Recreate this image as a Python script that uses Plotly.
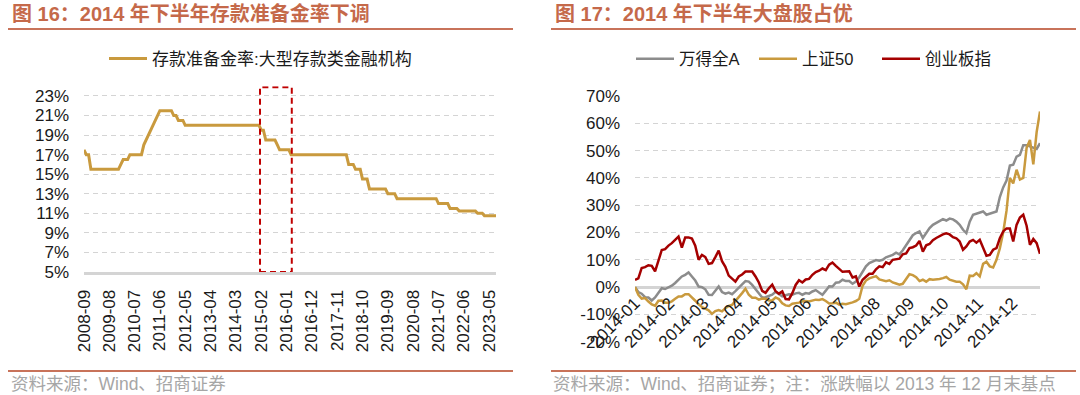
import pandas as pd
import plotly.graph_objects as go

W, H = 1080, 395

# ---------------- Left chart data: RRR (large depository institutions) ----------------
rrr_change_month = ["2008-09", "2008-10", "2008-12", "2010-01", "2010-02", "2010-05",
                    "2010-11", "2010-12", "2011-01", "2011-02", "2011-03", "2011-04",
                    "2011-05", "2011-06", "2011-12", "2012-02", "2012-05", "2015-02",
                    "2015-04", "2015-09", "2015-10", "2016-03", "2018-04", "2018-07",
                    "2018-10", "2019-01", "2019-09", "2020-01", "2021-07", "2021-12",
                    "2022-04", "2022-12", "2023-03"]
rrr_value = [17.5, 17.0, 15.5, 16.0, 16.5, 17.0,
             18.0, 18.5, 19.0, 19.5, 20.0, 20.5,
             21.0, 21.5, 21.0, 20.5, 20.0, 19.5,
             18.5, 18.0, 17.5, 17.0, 16.0, 15.5,
             14.5, 13.5, 13.0, 12.5, 12.0, 11.5,
             11.25, 11.0, 10.75]
rrr_first_month = "2008-09"
rrr_last_month = "2023-08"
rrr_tick_labels = ["2008-09", "2009-08", "2010-07", "2011-06", "2012-05", "2013-04",
                   "2014-03", "2015-02", "2016-01", "2016-12", "2017-11", "2018-10",
                   "2019-09", "2020-08", "2021-07", "2022-06", "2023-05"]
rrr_y_ticks = [5, 7, 9, 11, 13, 15, 17, 19, 21, 23]
highlight_start, highlight_end, highlight_top = "2015-01-15", "2016-03-10", 23.9

# ---------------- Right chart data: cumulative return since end-2013 (%) ----------------
wind_a = [0, -1.8, -2.4, -3.7, -3.8, -4.9, -3.8, -2.2, -0.4, -0.7, -0.2, 0.5, 1.5, 2.6, 3.9,
          4.5, 5.4, 3.9, 2.4, 0.2, 0.0, -0.8, -2.8, -2.9, -1.4, 0.2, -1.8, -2.4, -2.0, -2.6,
          -1.5, -0.4, 1.0, 2.2, 2.0, 0.8, -0.6, -2.4, -3.8, -3.7, -3.1,
          -2.8, -1.7, -2.6, -3.4, -3.0, -2.6, -2.8, -2.3, -2.1, -2.8, -2.2, -2.4, -1.6, -1.1,
          -2.0, -2.8, -1.3, 0.3, 0.2, 1.6, 1.8, 2.7, 2.2, 2.2, 1.2, 2.0, 3.6, 5.7, 7.6,
          8.8, 9.4, 9.9, 9.7, 10.0, 10.9, 11.3, 11.8, 12.6, 12.0, 13.5, 15.5,
          17.5, 19.0, 19.8, 20.4, 18.0, 20.0, 21.6, 22.8, 23.6, 24.3, 24.9, 24.4, 25.1, 24.8,
          24.0, 22.8, 21.0, 19.8, 24.0, 26.5, 26.9, 27.3, 27.7, 26.5, 26.9, 27.3, 27.7, 33.0,
          36.5, 39.0, 44.5, 44.8, 47.8, 48.4, 52.0, 52.0, 51.5, 51.0, 50.6, 52.7]
sse50 = [0, -2.8, -4.2, -4.0, -5.3, -6.3, -6.8, -5.0, -4.9, -5.7, -5.7, -5.2, -4.3, -3.4, -3.4,
         -2.6, -2.6, -3.7, -5.0, -6.3, -7.3, -7.9, -8.5, -9.8, -8.8, -8.4, -8.9, -7.7, -6.9, -6.5,
         -5.2, -3.8, -2.2, -0.6, -2.8, -3.9, -3.9, -4.6, -4.2, -4.3, -4.9,
         -4.9, -3.8, -4.4, -5.9, -6.7, -6.9, -6.1, -6.0, -5.7, -5.2, -5.1, -5.3, -4.9, -4.6,
         -4.7, -4.4, -5.1, -6.0, -5.9, -5.7, -6.4, -6.1, -6.3, -6.0, -5.6, -5.1, -4.3, 0.5, 2.4,
         3.2, 3.5, 4.0, 2.8, 2.4, 2.2, 2.5, 1.7, 1.3, 0.9, 1.2, 3.2,
         4.7, 4.4, 3.6, 2.2, 2.7, 2.0, 2.9, 2.7, 2.8, 3.0, 3.3, 3.7, 2.7, 2.2,
         2.0, 2.0, 1.0, -0.8, 4.2, 4.1, 5.1, 3.9, 8.5, 9.3, 7.6, 7.2, 10.0, 14.2,
         20.0, 28.0, 40.0, 38.0, 43.0, 39.4, 40.0, 51.0, 53.9, 45.0, 56.8, 64.3]
chinext = [2.7, 3.2, 7.0, 7.3, 8.0, 7.8, 5.8, 10.0, 13.6, 13.9, 15.2, 16.1, 17.3, 18.5, 14.5,
           18.2, 18.2, 17.8, 15.2, 10.0, 11.8, 11.0, 8.5, 8.8, 11.0, 13.4, 9.5, 7.4, 4.2, 3.1,
           2.0, 3.9, 4.6, 5.7, 5.8, 5.7, 3.9, 1.7, -1.4, -2.1, -0.4,
           0.9, -1.5, -2.4, -1.6, -4.4, -4.5, -2.2, 0.8, 2.5, 1.7, 2.8, 3.0, 4.5, 5.5,
           6.0, 6.8, 6.2, 8.2, 9.0, 7.8, 6.8, 5.6, 5.7, 5.8, 3.5, 3.9, 0.2, 2.7, 3.8,
           4.9, 4.9, 6.5, 7.6, 7.3, 9.1, 8.5, 10.0, 10.2, 10.4, 12.0, 12.3,
           14.3, 14.6, 15.2, 16.9, 13.0, 15.3, 15.8, 17.2, 18.0, 18.8, 19.3, 19.7, 19.3, 18.3,
           17.9, 16.7, 13.7, 14.9, 16.7, 17.3, 16.3, 17.3, 14.5, 11.5, 11.8, 13.7, 14.3, 17.9,
           20.4, 21.5, 21.5, 16.7, 22.8, 25.5, 26.5, 22.5, 15.5, 17.6, 16.1, 12.2]
trade_day = [2 * i for i in range(len(wind_a))]       # trading-day index, sampled every 2 days
month_labels = ["2014-01", "2014-02", "2014-03", "2014-04", "2014-05", "2014-06",
                "2014-07", "2014-08", "2014-09", "2014-10", "2014-11", "2014-12"]
days_per_label = 20.5
ret_y_ticks = [-20, -10, 0, 10, 20, 30, 40, 50, 60, 70]

# ---------------- styling ----------------
GOLD = "#C99A3E"
GRAY = "#8C8C8C"
RED = "#A50000"
TITLE_C = "#C5694A"
GRID = "#D4D4D4"
NUM_FONT = "Liberation Sans, Arial, Noto Sans CJK SC"
CJK_FONT = "Liberation Sans, Noto Sans CJK SC"


def px(x):
    return x / W


def py(y):
    return 1 - y / H


months = pd.date_range(rrr_first_month, rrr_last_month, freq="MS")
rrr_monthly = (pd.Series(rrr_value, index=pd.to_datetime(rrr_change_month))
               .reindex(months).ffill())

fig = go.Figure()
fig.add_trace(go.Scatter(x=rrr_monthly.index, y=rrr_monthly.values, mode="lines",
                         name="存款准备金率:大型存款类金融机构",
                         line=dict(color=GOLD, width=3), xaxis="x", yaxis="y",
                         legend="legend", hoverinfo="skip"))
for name, vals, col in [("万得全A", wind_a, GRAY), ("上证50", sse50, GOLD), ("创业板指", chinext, RED)]:
    fig.add_trace(go.Scatter(x=trade_day, y=vals, mode="lines", name=name,
                             line=dict(color=col, width=2.5), xaxis="x2", yaxis="y2",
                             legend="legend2", hoverinfo="skip"))

# axes geometry (pixels)
L_X0, L_X1 = 84, 496
L_Y5, L_YTOP = 272, 86.2
R_X0, R_X1 = 635, 1040
R_YTOP, R_YBOT, R_Y0 = 96, 341.7, 287.1

tick_font = dict(family=NUM_FONT, size=17, color="#1A1A1A")
grid_style = dict(showgrid=True, gridcolor=GRID, gridwidth=1, griddash="5px,4px")

fig.update_layout(
    template="none",
    width=W, height=H, autosize=False,
    margin=dict(l=0, r=0, t=0, b=0, pad=0, autoexpand=False),
    paper_bgcolor="white", plot_bgcolor="white",
    showlegend=True,
    xaxis=dict(domain=[px(L_X0), px(L_X1)], anchor="y", type="date",
               range=[months[0], months[-1]],
               tickvals=pd.to_datetime(rrr_tick_labels), ticktext=rrr_tick_labels,
               tickangle=-90, tickfont=tick_font, ticks="", ticklabelstandoff=8,
               showgrid=False, showline=True, linecolor=GRID, linewidth=3,
               zeroline=False, fixedrange=True, automargin=False),
    yaxis=dict(domain=[py(L_Y5), py(L_YTOP)], anchor="x", range=[5, 24],
               tickvals=rrr_y_ticks, ticktext=[f"{v}%" for v in rrr_y_ticks],
               tickfont=tick_font, ticks="", ticklabelstandoff=14, **grid_style,
               zeroline=False, showline=False, fixedrange=True, automargin=False),
    xaxis2=dict(domain=[px(R_X0), px(R_X1)], anchor="free",
                position=py(R_Y0), range=[0, trade_day[-1]],
                tickvals=[i * days_per_label for i in range(len(month_labels))],
                ticktext=month_labels, tickangle=-45, tickfont=tick_font, ticks="",
                ticklabelstandoff=2, showgrid=False, showline=False, zeroline=False,
                fixedrange=True, automargin=False),
    yaxis2=dict(domain=[py(R_YBOT), py(R_YTOP)], anchor="x2", range=[-20, 70],
                tickvals=ret_y_ticks, ticktext=[f"{v}%" for v in ret_y_ticks],
                tickfont=tick_font, ticks="", ticklabelstandoff=14, **grid_style,
                zeroline=True, zerolinecolor=GRID, zerolinewidth=3,
                showline=False, fixedrange=True, automargin=False),
    legend=dict(orientation="h", x=px(104), xanchor="left", y=py(59), yanchor="middle",
                font=dict(family=CJK_FONT, size=17, color="#1A1A1A"), itemwidth=38,
                bgcolor="rgba(0,0,0,0)", borderwidth=0),
    legend2=dict(orientation="h", x=px(631), xanchor="left", y=py(59), yanchor="middle",
                 font=dict(family=CJK_FONT, size=16.5, color="#1A1A1A"), itemwidth=38,
                 entrywidth=70, entrywidthmode="pixels",
                 bgcolor="rgba(0,0,0,0)", borderwidth=0),
)

# highlight box on left chart
fig.add_shape(type="rect", xref="x", yref="y", x0=highlight_start, x1=highlight_end,
              y0=5, y1=highlight_top, line=dict(color="#C00000", width=2, dash="6px,4px"),
              fillcolor="rgba(0,0,0,0)", layer="above")

# title rules and bottom rules
for x0, x1 in [(8, 513), (551, 1076)]:
    fig.add_shape(type="line", xref="paper", yref="paper", x0=px(x0), x1=px(x1),
                  y0=py(29), y1=py(29), line=dict(color="#C8735A", width=2))
    fig.add_shape(type="line", xref="paper", yref="paper", x0=px(x0), x1=px(x1),
                  y0=py(371), y1=py(371), line=dict(color="#C8735A", width=2))

titles = [(10, "图 16：2014 年下半年存款准备金率下调"), (553, "图 17：2014 年下半年大盘股占优")]
for x, t in titles:
    fig.add_annotation(text=f"<b>{t}</b>", xref="paper", yref="paper", x=px(x), y=py(14),
                       xanchor="left", yanchor="middle", showarrow=False,
                       font=dict(family=CJK_FONT, size=20, color=TITLE_C))

sources = [(9, "资料来源：Wind、招商证券"),
           (551, "资料来源：Wind、招商证券；注：涨跌幅以 2013 年 12 月末基点")]
for x, t in sources:
    fig.add_annotation(text=t, xref="paper", yref="paper", x=px(x), y=py(384),
                       xanchor="left", yanchor="middle", showarrow=False,
                       font=dict(family=CJK_FONT, size=17.5, color="#A6A6A6"))

fig.write_html("out.html", config={"displayModeBar": False},
               post_script="document.body.style.margin='0';document.body.style.overflow='hidden';")
